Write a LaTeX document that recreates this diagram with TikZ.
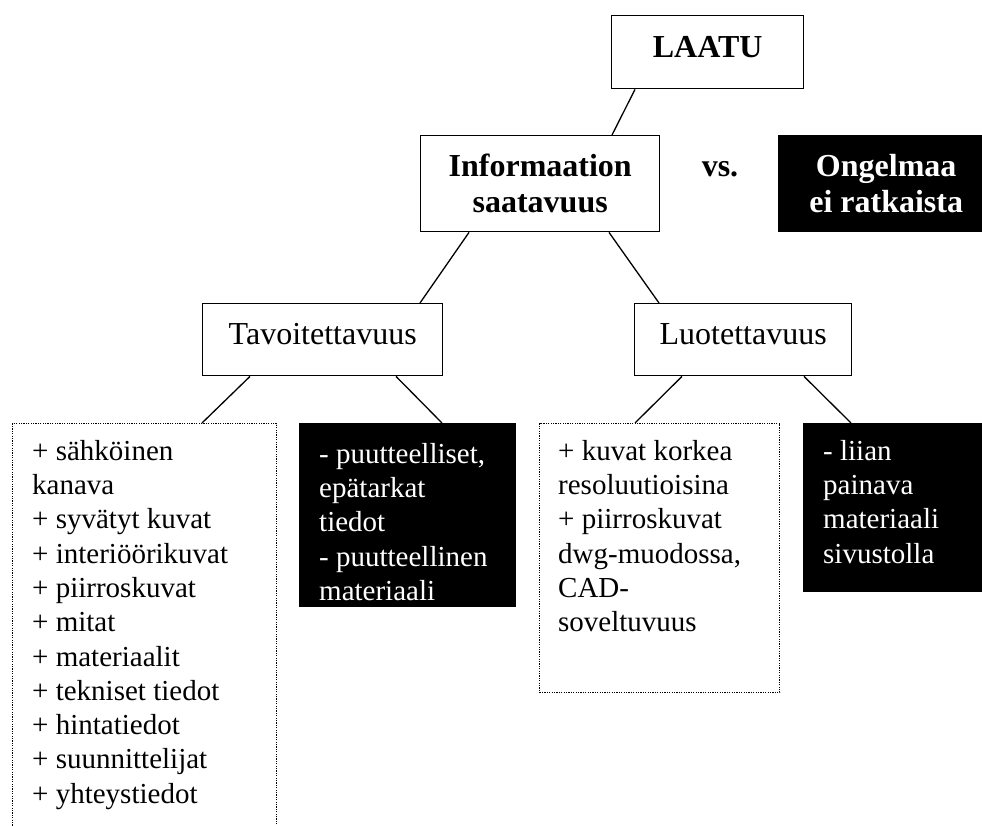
\documentclass[tikz,border=0pt]{standalone}
\usepackage{fontspec}
\setmainfont{Liberation Serif}
\usetikzlibrary{calc}
\begin{document}
\begin{tikzpicture}[x=1pt,y=-1pt,
  box/.style={draw, line width=1.4pt, inner sep=0pt, anchor=north west},
  darkbox/.style={fill=black, draw=none, inner sep=0pt, anchor=north west, text=white},
  dotbox/.style={draw, line width=1.3pt, dash pattern=on 1.2pt off 1.2pt, inner sep=0pt, anchor=north west},
  head/.style={font=\fontsize{32}{36}\selectfont\bfseries, align=center},
  sub/.style={font=\fontsize{32}{36}\selectfont},
  listtext/.style={font=\fontsize{29}{34.3}\selectfont, align=left, anchor=north west, inner sep=0pt},
  link/.style={line width=1.3pt}]
\path[use as bounding box, clip] (0,0) rectangle (982,826);

% top level
\node[box, head, minimum width=192pt, minimum height=73pt, text height=21pt, text depth=10pt] (laatu) at (611,15) {LAATU};
\node[box, head, minimum width=239pt, minimum height=96pt] (info) at (420,135) {Informaation\\saatavuus};
\node[head, anchor=base] (vs) at (720,177) {vs.};
\node[darkbox, head, minimum width=216pt, minimum height=97pt] (ongelma) at (778,135) {Ongelmaa\\ei ratkaista};

% second level
\node[box, sub, minimum width=240pt, minimum height=72pt, text height=20pt, text depth=11pt] (tav) at (202,303) {Tavoitettavuus};
\node[box, sub, minimum width=217pt, minimum height=72pt, text height=20pt, text depth=11pt] (luo) at (634,303) {Luotettavuus};

% pros and cons
\node[dotbox, minimum width=264pt, minimum height=420pt] (plus1) at (12,423) {};
\node[listtext] (plus1txt) at (32,436) {\strut+ sähköinen\\kanava\\+ syvätyt kuvat\\+ interiöörikuvat\\+ piirroskuvat\\+ mitat\\+ materiaalit\\+ tekniset tiedot\\+ hintatiedot\\+ suunnittelijat\\+ yhteystiedot};

\node[darkbox, minimum width=217pt, minimum height=184pt] (minus1) at (299,423) {};
\node[listtext, text=white] (minus1txt) at (319,439) {\strut- puutteelliset,\\epätarkat\\tiedot\\- puutteellinen\\materiaali};

\node[dotbox, minimum width=240pt, minimum height=269pt] (plus2) at (539,423) {};
\node[listtext] (plus2txt) at (558,436) {\strut+ kuvat korkea\\resoluutioisina\\+ piirroskuvat\\dwg-muodossa,\\CAD-\\soveltuvuus};

\node[darkbox, minimum width=190pt, minimum height=169pt] (minus2) at (803,423) {};
\node[listtext, text=white] (minus2txt) at (823,436) {\strut- liian\\painava\\materiaali\\sivustolla};

% connectors
\draw[link] ([xshift=24pt]laatu.south west) -- ([xshift=192pt]info.north west);
\draw[link] ([xshift=49pt]info.south west) -- ([xshift=218pt]tav.north west);
\draw[link] ([xshift=189pt]info.south west) -- ([xshift=25pt]luo.north west);
\draw[link] ([xshift=48pt]tav.south west) -- ([xshift=190pt]plus1.north west);
\draw[link] ([xshift=194pt]tav.south west) -- ([xshift=143pt]minus1.north west);
\draw[link] ([xshift=48pt]luo.south west) -- ([xshift=96pt]plus2.north west);
\draw[link] ([xshift=170pt]luo.south west) -- ([xshift=48pt]minus2.north west);
\end{tikzpicture}
\end{document}
